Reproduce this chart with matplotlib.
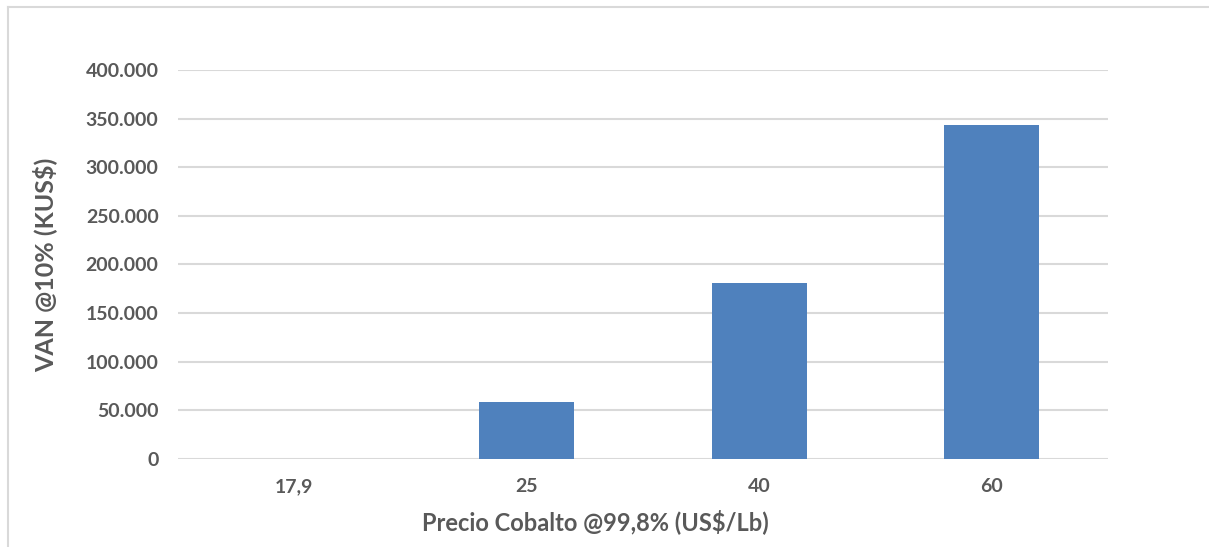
import matplotlib.pyplot as plt
from matplotlib.lines import Line2D
from matplotlib.ticker import FuncFormatter, MultipleLocator

plt.rcParams['font.family'] = ['Lato', 'DejaVu Sans']

precios = ["17,9", "25", "40", "60"]
van = [0, 58600, 181000, 343400]

gris = "#595959"

fig = plt.figure(figsize=(12.09, 5.47), dpi=100)
ax = fig.add_axes([0.1472, 0.1609, 0.7693, 0.7112])

x = range(len(precios))
ax.bar(x, van, width=0.41, color="#4f81bd", zorder=3)

ax.set_xlim(-0.5, len(precios) - 0.5)
ax.set_ylim(0, 400000)
ax.yaxis.set_major_locator(MultipleLocator(50000))
ax.yaxis.set_major_formatter(FuncFormatter(lambda v, p: "{:,.0f}".format(v).replace(",", ".")))
ax.grid(axis="y", color="#d9d9d9", linewidth=1.5, zorder=0)
ax.set_axisbelow(True)

for s in ax.spines.values():
    s.set_visible(False)

ax.set_xticks(list(x))
ax.set_xticklabels(precios)
ax.tick_params(axis="both", length=0, labelsize=14, labelcolor=gris)
ax.tick_params(axis="y", pad=14)
ax.tick_params(axis="x", pad=14)
for lbl in ax.get_xticklabels() + ax.get_yticklabels():
    lbl.set_fontweight("bold")

ax.set_xlabel("Precio Cobalto @99,8% (US$/Lb)", fontsize=17, fontweight="bold", color=gris)
ax.xaxis.set_label_coords(0.449, -0.13)
ax.set_ylabel("VAN @10% (KUS$)", fontsize=18, fontweight="bold", color=gris)
ax.yaxis.set_label_coords(-0.130, 0.5)

# marco del grafico
W, H = 1209, 547
fig.add_artist(Line2D([8 / W, 8 / W], [0, 1 - 7 / H], color="#d9d9d9", linewidth=1.5, transform=fig.transFigure))
fig.add_artist(Line2D([8 / W, 1], [1 - 7 / H, 1 - 7 / H], color="#d9d9d9", linewidth=1.5, transform=fig.transFigure))

fig.savefig("out.png", dpi=100)
